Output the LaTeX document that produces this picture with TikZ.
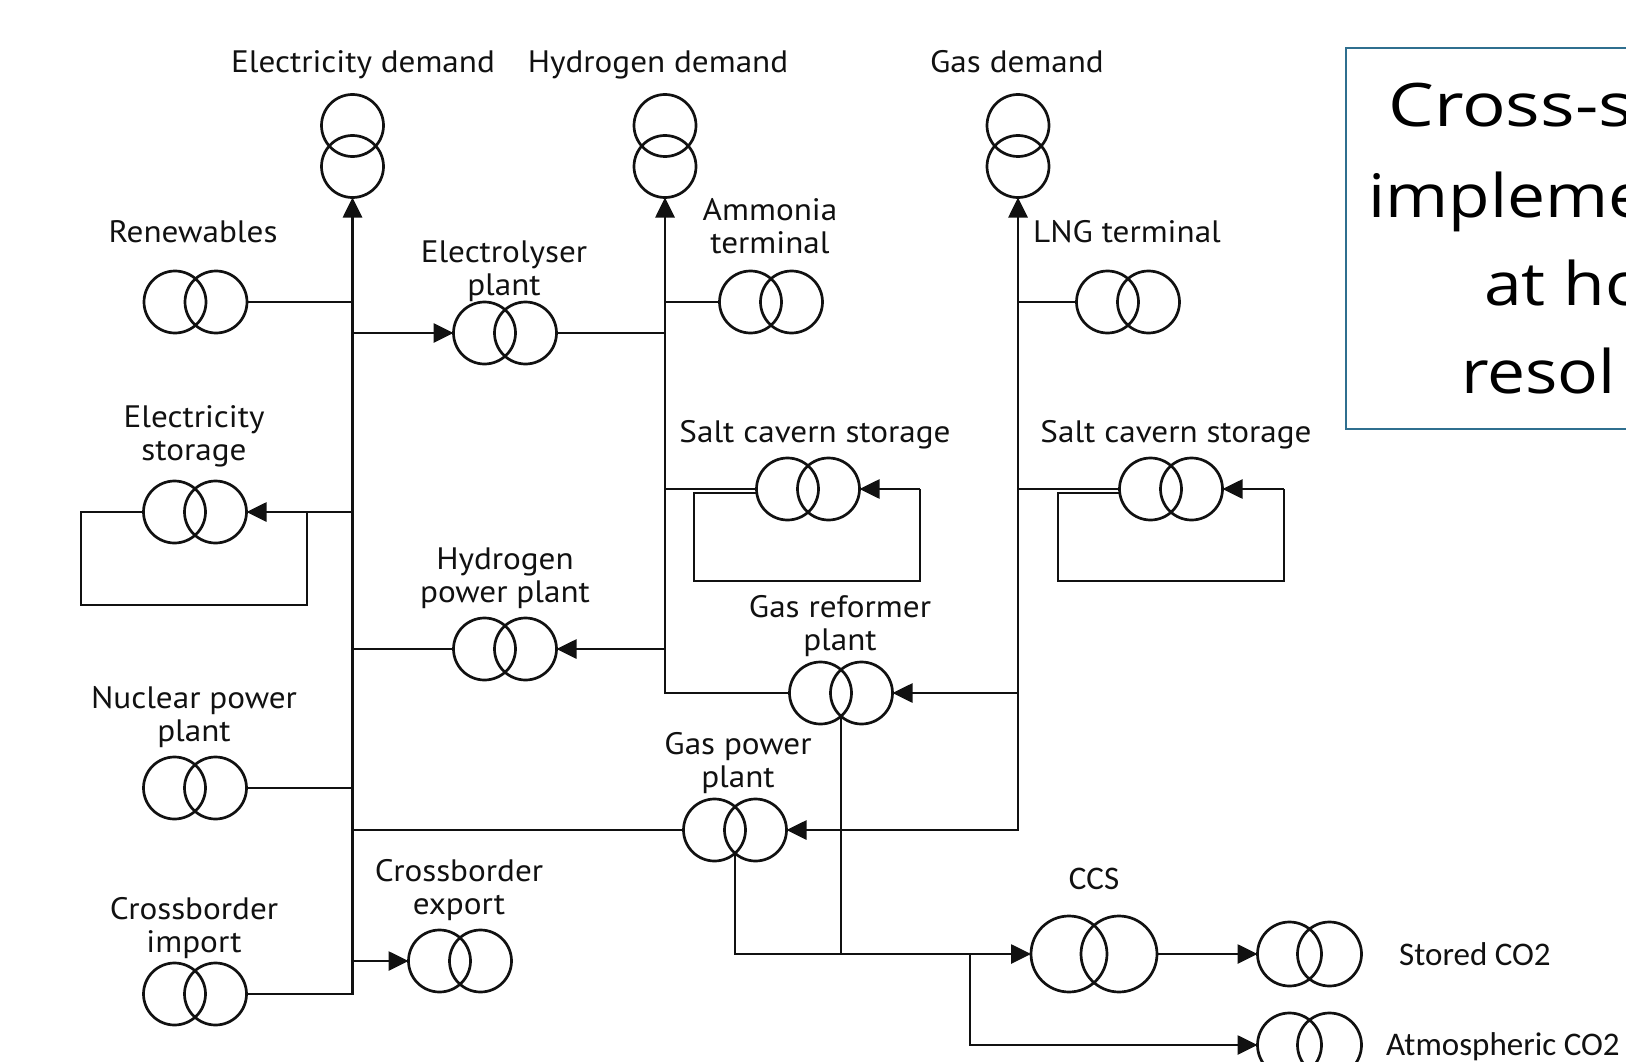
\documentclass[tikz,border=0pt]{standalone}
\usepackage{fontspec}
\setmainfont{PT Sans}
\newfontfamily\cofont{Carlito}
\newfontfamily\boxfont{Open Sans}
\usetikzlibrary{arrows.meta,calc}
\definecolor{boxblue}{HTML}{2F6F8F}
\definecolor{ink}{HTML}{111111}
\tikzset{
  ln/.style={draw=ink, line width=2.7pt},
  arr/.style={ln, -{Triangle[length=20pt,width=19pt]}},
  arrboth/.style={ln, {Triangle[length=20pt,width=19pt]}-{Triangle[length=20pt,width=19pt]}},
  symbox/.style={inner sep=0pt, outer sep=0pt},
  lab/.style={font=\fontsize{31}{33}\selectfont, inner sep=0pt, anchor=base, text=ink, xscale=1.07},
  colab/.style={font=\cofont\fontsize{33}{36}\selectfont, inner sep=0pt, text=ink},
  boxtxt/.style={font=\boxfont\fontsize{60}{70}\selectfont, inner sep=0pt, anchor=base west, xscale=1.13},
}
% horizontal pair of circles: name, x, y, radius, half offset
\newcommand\hsym[5]{%
  \node[symbox, minimum width={2*#4+2*#5}, minimum height={2*#4}] (#1) at (#2,#3) {};
  \draw[ln] ($(#1.center)+(-#5,0)$) circle[radius=#4pt]
            ($(#1.center)+(#5,0)$) circle[radius=#4pt];}
% vertical pair of circles
\newcommand\vsym[3]{%
  \node[symbox, minimum width=62pt, minimum height=103pt] (#1) at (#2,#3) {};
  \draw[ln] ($(#1.center)+(0,-20.5)$) circle[radius=31pt]
            ($(#1.center)+(0,20.5)$) circle[radius=31pt];}
\newcommand\lbl[1]{\begin{tabular}[t]{@{}c@{}}#1\end{tabular}}
\begin{document}
\begin{tikzpicture}[x=1pt,y=-1pt]
\useasboundingbox (0,0) rectangle (1626,1062);
\clip (0,0) rectangle (1626,1062);
\fill[white] (0,0) rectangle (1626,1062);

% demand symbols
\vsym{eld}{352.5}{146}
\vsym{h2d}{665}{146}
\vsym{gasd}{1018}{146}
% other symbols
\hsym{ren}{195.5}{302}{31}{20.5}
\hsym{ely}{505}{333}{31}{20.5}
\hsym{amm}{771}{302}{31}{20.5}
\hsym{lng}{1128}{302}{31}{20.5}
\hsym{est}{195}{512}{31}{20.5}
\hsym{h2s}{808}{489}{31}{20.5}
\hsym{gss}{1171}{489}{31}{20.5}
\hsym{h2p}{505}{649}{31}{20.5}
\hsym{ref}{841}{693}{31}{20.5}
\hsym{nuc}{195}{788}{31}{20.5}
\hsym{gpp}{735}{830}{31}{20.5}
\hsym{exp}{460}{961}{31}{20.5}
\hsym{imp}{195}{994}{31}{20.5}
\hsym{ccs}{1094}{954}{38}{25}
\hsym{sto}{1309.5}{954}{32}{20}
\hsym{atm}{1309.5}{1045}{32}{20}

% labels
\node[lab] (eldL) at (363,73) {Electricity demand};
\node[lab] (h2dL) at (658,73) {Hydrogen demand};
\node[lab] (gasdL) at (1017,73) {Gas demand};
\node[lab] (renL) at (193,242) {Renewables};
\node[lab] (elyL) at (504,262) {\lbl{Electrolyser\\plant}};
\node[lab] (ammL) at (770,220) {\lbl{Ammonia\\terminal}};
\node[lab] (lngL) at (1127,242) {LNG terminal};
\node[lab] (estL) at (194,427) {\lbl{Electricity\\storage}};
\node[lab] (h2sL) at (815,442) {Salt cavern storage};
\node[lab] (gssL) at (1176,442) {Salt cavern storage};
\node[lab] (h2pL) at (505,569) {\lbl{Hydrogen\\power plant}};
\node[lab] (refL) at (840,617) {\lbl{Gas reformer\\plant}};
\node[lab] (nucL) at (194,708) {\lbl{Nuclear power\\plant}};
\node[lab] (gppL) at (738,754) {\lbl{Gas power\\plant}};
\node[lab] (expL) at (459,881) {\lbl{Crossborder\\export}};
\node[lab] (impL) at (194,919) {\lbl{Crossborder\\import}};
\node[colab, anchor=base] (ccsL) at (1094,889) {CCS};
\node[colab, anchor=base west] (stoL) at (1399,965) {Stored CO2};
\node[colab, anchor=base west] (atmL) at (1386,1055) {Atmospheric CO2};

% buses
\draw[arr] (imp.east) -| (eld.south);
\draw[arr] (ref.west) -| (h2d.south);
\draw[arrboth] (gpp.east) -| (gasd.south);

% electricity side
\draw[ln] (ren.east) -- (ren.east -| eld.south);
\draw[arr] (ely.west -| eld.south) -- (ely.west);
\draw[ln] (ely.east) -- (ely.east -| h2d.south);
\draw[arr] (est.east -| eld.south) -- (est.east);
\coordinate (estR) at ($(est.east)+(60.5,0)$);
\draw[ln] (est.west) -- ++(-62.5,0) -- ++(0,93) -| (estR);
\draw[ln] (h2p.west) -- (h2p.west -| eld.south);
\draw[arr] (h2p.east -| h2d.south) -- (h2p.east);
\draw[ln] (nuc.east) -- (nuc.east -| eld.south);
\draw[ln] (gpp.west) -- (gpp.west -| eld.south);
\draw[arr] (exp.west -| eld.south) -- (exp.west);

% hydrogen side
\draw[ln] (amm.west) -- (amm.west -| h2d.south);
\draw[ln] (h2s.west -| h2d.south) -- (h2s.west);
\coordinate (h2sR) at ($(h2s.east)+(60.5,0)$);
\draw[ln] ($(h2s.west)+(0,4)$) -- ++(-62.5,0) -- ++(0,88) -| (h2sR);
\draw[arr] (h2sR) -- (h2s.east);

% gas side
\draw[ln] (lng.west) -- (lng.west -| gasd.south);
\draw[ln] (gss.west -| gasd.south) -- (gss.west);
\coordinate (gssR) at ($(gss.east)+(61.5,0)$);
\draw[ln] ($(gss.west)+(0,4)$) -- ++(-61.5,0) -- ++(0,88) -| (gssR);
\draw[arr] (gssR) -- (gss.east);
\draw[arr] (ref.east -| gasd.south) -- (ref.east);

% CO2
\coordinate (gppB) at ($(gpp.center)+(0,23.25)$);
\coordinate (refB) at ($(ref.center)+(0,23.25)$);
\draw[arr] (gppB) |- (ccs.west);
\draw[ln] (refB) -- (refB |- ccs.west);
\coordinate (br) at ($(ccs.west)+(-61,0)$);
\draw[arr] (br) |- (atm.west);
\draw[arr] (ccs.east) -- (sto.west);

% text box
\node[draw=boxblue, line width=1.6pt, minimum width=355pt, minimum height=381pt,
      anchor=north west, inner sep=0pt] (note) at (1345,47) {};
\node[boxtxt, xscale=1.07] (t1) at (1388,127) {Cross-s};
\node[boxtxt] (t2) at (1368,217) {impleme};
\node[boxtxt] (t3) at (1484,305) {at ho};
\node[boxtxt] (t4) at (1461,393) {resol};
\end{tikzpicture}
\end{document}
